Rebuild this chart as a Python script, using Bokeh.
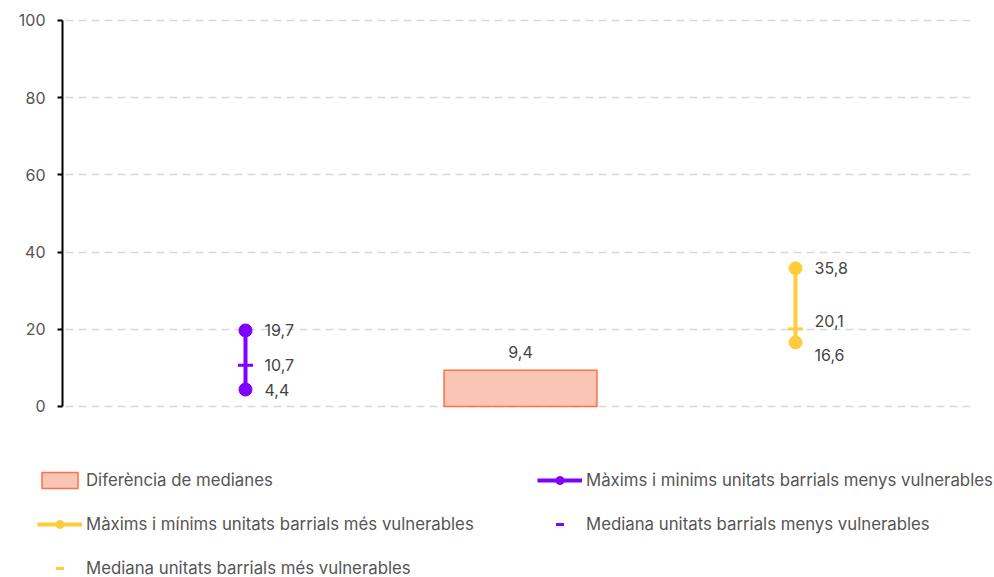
from bokeh.plotting import figure
from bokeh.models import (Range1d, ColumnDataSource, Legend, LegendItem,
                          BoxAnnotation)
from bokeh.core.properties import value
from bokeh.embed import file_html
from bokeh.resources import INLINE

# ---- data ----
categories = ["Menys vulnerables", "Diferència", "Més vulnerables"]
less_min, less_med, less_max = 4.4, 10.7, 19.7
more_min, more_med, more_max = 16.6, 20.1, 35.8
diff_medians = 9.4
y_ticks = [0, 20, 40, 60, 80, 100]

PURPLE = "#7f00ff"
YELLOW = "#ffcd3c"
BAR_FILL = "#f9c5b4"
BAR_LINE = "#ff7043"
FONT = "Inter"

xpos = {c: i for i, c in enumerate(categories)}

def fmt(v):
    return f"{v:.1f}".replace(".", ",")

# frame covers the whole canvas; axis is placed at a fixed location
AXIS_X = -0.6655
GRID_END = 2.6545
p = figure(width=994, height=577, output_backend="svg", toolbar_location=None,
           x_range=Range1d(-0.8909, 2.7236), y_range=Range1d(-44.30, 105.18),
           min_border_left=0, min_border_right=0, min_border_top=0,
           min_border_bottom=0)
p.outline_line_color = None
p.xaxis.visible = False
p.xgrid.grid_line_color = None
p.ygrid.grid_line_color = "#d9d9d9"
p.ygrid.grid_line_dash = "8 5"
p.ygrid.grid_line_width = 1.3
p.yaxis.ticker = y_ticks
p.yaxis.fixed_location = AXIS_X
p.yaxis.bounds = (0, 100)
p.yaxis.axis_line_color = "black"
p.yaxis.axis_line_width = 2
p.yaxis.major_tick_line_color = "black"
p.yaxis.major_tick_line_width = 2
p.yaxis.major_tick_out = 5
p.yaxis.major_tick_in = 0
p.yaxis.minor_tick_line_color = None
p.yaxis.major_label_standoff = 12
p.yaxis.major_label_text_font = FONT
p.yaxis.major_label_text_font_size = "16px"
p.yaxis.major_label_text_color = "#555555"

# mask grid lines outside the plotting area
p.add_layout(BoxAnnotation(right=AXIS_X, fill_color="white", fill_alpha=1,
                           line_color=None, level="underlay"))
p.add_layout(BoxAnnotation(left=GRID_END, fill_color="white", fill_alpha=1,
                           line_color=None, level="underlay"))

# bar: difference of medians
bar_src = ColumnDataSource(dict(x=[xpos[categories[1]]], top=[diff_medians],
                                lab=[fmt(diff_medians)]))
bar = p.vbar(x="x", top="top", bottom=0, width=0.556, source=bar_src,
             fill_color=BAR_FILL, line_color=BAR_LINE, line_width=1.5)
p.text(x="x", y="top", text="lab", source=bar_src, y_offset=-12,
       text_align="center", text_baseline="bottom",
       text_font=value(FONT), text_font_size="16px", text_color="#444444")

# ranges
def range_group(cat, vmin, vmed, vmax, color, offsets):
    x = xpos[cat]
    seg = p.segment(x0=[x], y0=[vmin], x1=[x], y1=[vmax],
                    line_color=color, line_width=4)
    dots = p.scatter(x=[x, x], y=[vmin, vmax], size=13, marker="circle",
                     fill_color=color, line_color=color)
    med = p.scatter(x=[x], y=[vmed], marker="dash", size=15,
                    line_color=color, line_width=3)
    src = ColumnDataSource(dict(x=[x] * 3, y=[vmax, vmed, vmin],
                                lab=[fmt(vmax), fmt(vmed), fmt(vmin)],
                                off=offsets))
    p.text(x="x", y="y", text="lab", source=src, x_offset=19, y_offset="off",
           text_align="left", text_baseline="middle",
           text_font=value(FONT), text_font_size="16px", text_color="#444444")
    return seg, dots, med

seg_l, dot_l, med_l = range_group(categories[0], less_min, less_med, less_max,
                                  PURPLE, [0, 0, 0])
seg_m, dot_m, med_m = range_group(categories[2], more_min, more_med, more_max,
                                  YELLOW, [0, -8, 13])

# column-major order: first column, then second column
items = [
    LegendItem(label="Diferència de medianes", renderers=[bar]),
    LegendItem(label="Màxims i mínims unitats barrials més vulnerables",
               renderers=[seg_m, dot_m]),
    LegendItem(label="Mediana unitats barrials més vulnerables", renderers=[med_m]),
    LegendItem(label="Màxims i minims unitats barrials menys vulnerables",
               renderers=[seg_l, dot_l]),
    LegendItem(label="Mediana unitats barrials menys vulnerables", renderers=[med_l]),
]
legend = Legend(items=items, location=(37, -1), orientation="vertical",
                nrows=3, ncols=2, glyph_width=45, glyph_height=20,
                label_height=20, label_width=427, label_standoff=4, spacing=24,
                padding=0, margin=0, border_line_color=None,
                background_fill_alpha=0,
                label_text_font=FONT, label_text_font_size="16.8px",
                label_text_color="#555555")
p.add_layout(legend, "center")

open("out.html", "w").write(file_html(p, INLINE))
